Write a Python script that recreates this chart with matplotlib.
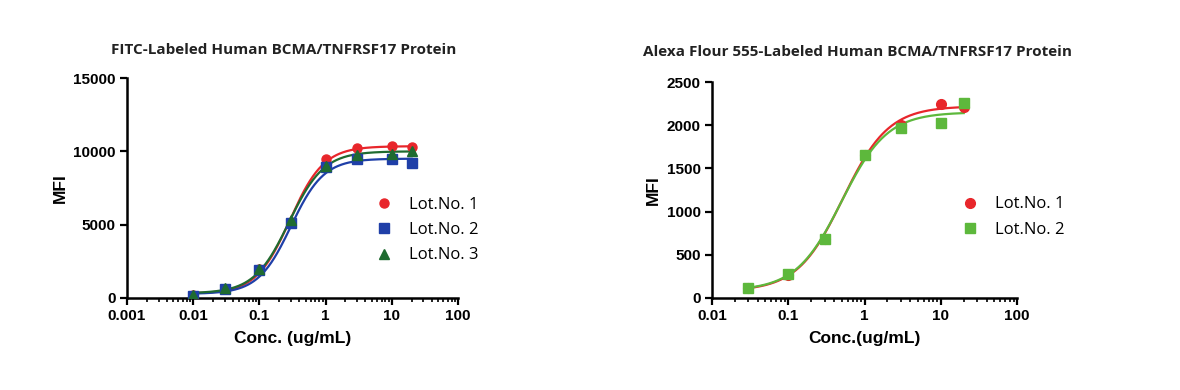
import numpy as np
import matplotlib
matplotlib.use("Agg")
import matplotlib.pyplot as plt
from matplotlib.ticker import LogLocator, NullFormatter, FixedLocator

# ---- data ----
conc_fitc = [0.01, 0.03, 0.1, 0.3, 1, 3, 10, 20]
fitc_lot1 = [200, 600, 2000, 5200, 9500, 10200, 10350, 10300]
fitc_lot2 = [150, 600, 1900, 5100, 8900, 9500, 9450, 9200]
fitc_lot3 = [200, 650, 2000, 5300, 9000, 9750, 9800, 10050]

conc_af = [0.03, 0.1, 0.3, 1, 3, 10, 20]
af_lot1 = [120, 270, 680, 1660, 2000, 2240, 2210]
af_lot2 = [120, 280, 680, 1660, 1970, 2030, 2260]

# 4PL fit parameters (bottom, top, EC50, hill)
fit_fitc = [(300, 10350, 0.29, 1.7), (280, 9500, 0.30, 1.75), (320, 10000, 0.28, 1.65)]
fit_af = [(80, 2220, 0.52, 1.45), (85, 2150, 0.50, 1.45)]

RED = "#e8262b"
BLUE = "#1f3fa8"
DGREEN = "#1f6b30"
LGREEN = "#5db83c"

TITLE_FONT = dict(family="Open Sans", weight="bold", size=11, color="#222222")
TICK_FONT = dict(family="Liberation Sans", weight="bold", size=11)
LABEL_FONT = dict(family="Liberation Sans", weight="bold", size=12.5)
LEGEND_FONT = dict(family="Open Sans", size=12)


def four_pl(x, bottom, top, ec50, hill):
    return bottom + (top - bottom) / (1 + (ec50 / x) ** hill)


def style_axes(ax, xlim, ylim, yticks, xticks):
    ax.set_xscale("log")
    ax.set_xlim(*xlim)
    ax.set_ylim(*ylim)
    for s in ["top", "right"]:
        ax.spines[s].set_visible(False)
    for s in ["left", "bottom"]:
        ax.spines[s].set_linewidth(1.8)
    ax.xaxis.set_major_locator(FixedLocator(xticks))
    ax.set_xticklabels([f"{t:g}" for t in xticks])
    ax.xaxis.set_minor_locator(LogLocator(base=10, subs=np.arange(2, 10), numticks=20))
    ax.xaxis.set_minor_formatter(NullFormatter())
    ax.set_yticks(yticks)
    ax.tick_params(axis="both", which="major", direction="out", length=5, width=1.6, pad=3)
    ax.tick_params(axis="x", which="minor", direction="out", length=3, width=1.2)
    for lab in ax.get_xticklabels() + ax.get_yticklabels():
        lab.set_fontproperties(matplotlib.font_manager.FontProperties(**TICK_FONT))
    ax.set_ylabel("MFI", **LABEL_FONT, labelpad=4)
    ax.patch.set_alpha(0)


fig = plt.figure(figsize=(11.8, 3.9), dpi=100)

# ---- left panel ----
ax1 = fig.add_axes([0.1076, 0.2359, 0.2805, 0.5641])
series1 = [(fitc_lot1, "o", RED, "Lot.No. 1"),
           (fitc_lot2, "s", BLUE, "Lot.No. 2"),
           (fitc_lot3, "^", DGREEN, "Lot.No. 3")]
xs = np.logspace(np.log10(conc_fitc[0]), np.log10(conc_fitc[-1]), 300)
for (vals, mk, col, lab), p in zip(series1, fit_fitc):
    ax1.plot(xs, four_pl(xs, *p), color=col, lw=1.6, zorder=2)
    ax1.plot(conc_fitc, vals, mk, color=col, ms=6.5, ls="none", label=lab, zorder=3)
style_axes(ax1, (0.001, 100), (0, 15000), [0, 5000, 10000, 15000],
           [0.001, 0.01, 0.1, 1, 10, 100])
ax1.set_xlabel("Conc. (ug/mL)", **LABEL_FONT, labelpad=6)
ax1.set_title("FITC-Labeled Human BCMA/TNFRSF17 Protein", **TITLE_FONT, pad=17, x=0.474)
ax1.legend(loc="center left", bbox_to_anchor=(0.705, 0.309), frameon=False,
           handletextpad=1.0, labelspacing=0.56, handlelength=1.0,
           prop=LEGEND_FONT)

# ---- right panel ----
ax2 = fig.add_axes([0.6034, 0.2359, 0.2585, 0.5538])
series2 = [(af_lot1, "o", RED, "Lot.No. 1"),
           (af_lot2, "s", LGREEN, "Lot.No. 2")]
xs2 = np.logspace(np.log10(conc_af[0]), np.log10(conc_af[-1]), 300)
for (vals, mk, col, lab), p in zip(series2, fit_af):
    ax2.plot(xs2, four_pl(xs2, *p), color=col, lw=1.6, zorder=2)
    ax2.plot(conc_af, vals, mk, color=col, ms=7, ls="none", label=lab, zorder=3)
style_axes(ax2, (0.01, 100), (0, 2500), [0, 500, 1000, 1500, 2000, 2500],
           [0.01, 0.1, 1, 10, 100])
ax2.set_xlabel("Conc.(ug/mL)", **LABEL_FONT, labelpad=6)
ax2.set_title("Alexa Flour 555-Labeled Human BCMA/TNFRSF17 Protein", **TITLE_FONT, pad=19, x=0.477)
ax2.legend(loc="center left", bbox_to_anchor=(0.77, 0.375), frameon=False,
           handletextpad=1.0, labelspacing=0.56, handlelength=1.0,
           prop=LEGEND_FONT)

fig.savefig("out.png", dpi=100, facecolor="white")
